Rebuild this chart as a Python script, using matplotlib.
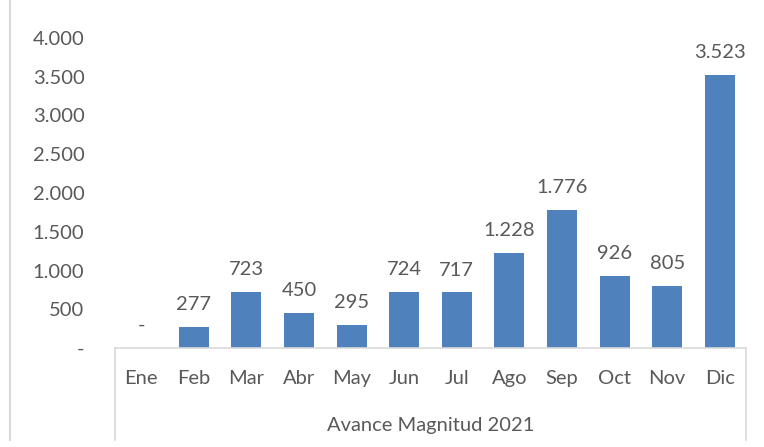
import numpy as np
import matplotlib.pyplot as plt
from matplotlib.lines import Line2D

meses = ["Ene", "Feb", "Mar", "Abr", "May", "Jun", "Jul", "Ago", "Sep", "Oct", "Nov", "Dic"]
valores = [0, 277, 723, 450, 295, 724, 717, 1228, 1776, 926, 805, 3523]
grupo = "Avance Magnitud 2021"
y_ticks = [0, 500, 1000, 1500, 2000, 2500, 3000, 3500, 4000]


def miles(v):
    # formato con punto de miles y guion para cero
    if v == 0:
        return "-"
    return f"{v:,.0f}".replace(",", ".")


def main():
    plt.rcParams['font.family'] = ['Lato', 'DejaVu Sans']
    gris = "#595959"
    linea = "#d9d9d9"
    azul = "#4f81bd"

    fig = plt.figure(figsize=(7.64, 4.47), dpi=100)
    W, H = 764, 447
    ax = fig.add_axes([115 / W, 1 - 348 / H, (746 - 115) / W, (348 - 38) / H])

    x = np.arange(len(meses))
    bars = ax.bar(x, valores, width=0.57, color=azul)
    for b, v in zip(bars, valores):
        ax.annotate(miles(v), (b.get_x() + b.get_width() / 2, v),
                    xytext=(0, 10), textcoords="offset points",
                    ha="center", va="bottom", fontsize=14.5, color=gris)

    ax.set_xlim(-0.5, len(meses) - 0.5)
    ax.set_ylim(0, 4000)
    ax.set_yticks(y_ticks)
    ax.set_yticklabels([miles(t) for t in y_ticks])
    ax.set_xticks(x)
    ax.set_xticklabels(meses)
    ax.tick_params(axis="y", length=0, pad=22, labelsize=14.5, labelcolor=gris)
    ax.tick_params(axis="x", length=0, pad=16, labelsize=14.5, labelcolor=gris)
    for s in ["top", "right", "left"]:
        ax.spines[s].set_visible(False)
    ax.spines["bottom"].set_color(linea)
    ax.spines["bottom"].set_linewidth(1.2)

    # marco del eje de categorias y del grupo
    for px in [115, 746]:
        fig.add_artist(Line2D([px / W, px / W], [1 - 348 / H, 1 - 440 / H],
                              color=linea, lw=1.2))
    fig.add_artist(Line2D([10 / W, 10 / W], [1.0, 1 - 440 / H], color=linea, lw=1.5))
    fig.text((115 + 746) / 2 / W, 1 - 426 / H, grupo, ha="center", va="center",
             fontsize=14.5, color=gris)

    fig.savefig("out.png", dpi=100)
    plt.close("all")


if __name__ == "__main__":
    main()
